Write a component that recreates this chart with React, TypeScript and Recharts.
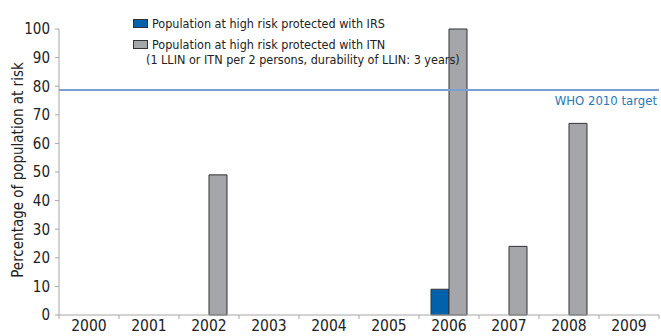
import React from "react"
import {
  BarChart, Bar, XAxis, YAxis, ReferenceLine, Label,
} from "recharts"

const years = ["2000", "2001", "2002", "2003", "2004", "2005", "2006", "2007", "2008", "2009"]
const irs = [0, 0, 0, 0, 0, 0, 9, 0, 0, 0]
const itn = [0, 0, 49, 0, 0, 0, 100, 24, 67, 0]
const yTicks = [0, 10, 20, 30, 40, 50, 60, 70, 80, 90, 100]
const target = 78.7

const FONT = "'Liberation Sans Narrow', 'DejaVu Sans Condensed', Arial, sans-serif"
const AXIS = "#a6a6a6"

const data = years.map((year, i) => ({ year, irs: irs[i], itn: itn[i] }))

function YearTick(props: any) {
  const { x, y, payload, index } = props
  const half = 30
  return (
    <g>
      <line x1={x - half} y1={y - 8} x2={x - half} y2={y - 4} stroke={AXIS} />
      {index === years.length - 1 && (
        <line x1={x + half} y1={y - 8} x2={x + half} y2={y - 4} stroke={AXIS} />
      )}
      <text x={x} y={y + 8} textAnchor="middle" fontSize={15.5} fill="#222" fontFamily={FONT}>
        {payload.value}
      </text>
    </g>
  )
}

function LegendBox() {
  return (
    <div style={{ position: "absolute", left: 133, top: 16, fontFamily: FONT, fontSize: 12.5, color: "#222", lineHeight: "15px" }}>
      <div style={{ display: "flex", alignItems: "center" }}>
        <span style={{ width: 13, height: 7, background: "#0061ac", border: "1px solid #333", marginRight: 4 }} />
        Population at high risk protected with IRS
      </div>
      <div style={{ display: "flex", alignItems: "center", marginTop: 6 }}>
        <span style={{ width: 13, height: 7, background: "#a5a6a9", border: "1px solid #333", marginRight: 4 }} />
        Population at high risk protected with ITN
      </div>
      <div style={{ marginLeft: 13 }}>
        (1 LLIN or ITN per 2 persons, durability of LLIN: 3 years)
      </div>
    </div>
  )
}

export default function App() {
  return (
    <div style={{ position: "relative", width: 661, height: 336, background: "#fff" }}>
      <style>{"body{margin:0}"}</style>
      <BarChart
        width={661}
        height={336}
        data={data}
        margin={{ top: 29, right: 2, bottom: 0, left: 0 }}
        barCategoryGap="20%"
        barGap={0}
      >
        <XAxis
          dataKey="year"
          height={21}
          tickLine={false}
          axisLine={{ stroke: AXIS }}
          tick={<YearTick />}
          interval={0}
        />
        <YAxis
          width={59}
          domain={[0, 100]}
          ticks={yTicks}
          interval={0}
          axisLine={{ stroke: AXIS }}
          tickLine={{ stroke: AXIS }}
          tickSize={4}
          tickMargin={5}
          tick={{ fontSize: 15, fill: "#222", fontFamily: FONT }}
        >
          <Label
            content={() => (
              <text
                x={18}
                y={170}
                transform="rotate(-90 18 170)"
                textAnchor="middle"
                dominantBaseline="central"
                fontSize={15}
                fill="#222"
                fontFamily={FONT}
              >
                Percentage of population at risk
              </text>
            )}
          />
        </YAxis>
        <ReferenceLine
          y={target}
          stroke="#7a9fd4"
          strokeWidth={2}
          label={{
            content: (p: any) => (
              <text
                x={p.viewBox.x + p.viewBox.width - 2}
                y={p.viewBox.y + 15}
                textAnchor="end"
                fontSize={13}
                fill="#2a78b8"
                fontFamily={FONT}
              >
                WHO 2010 target
              </text>
            ),
          }}
        />
        <Bar dataKey="irs" fill="#0061ac" stroke="#333" strokeWidth={1} isAnimationActive={false} />
        <Bar dataKey="itn" fill="#a5a6a9" stroke="#333" strokeWidth={1} isAnimationActive={false} />
      </BarChart>
      <LegendBox />
    </div>
  )
}
